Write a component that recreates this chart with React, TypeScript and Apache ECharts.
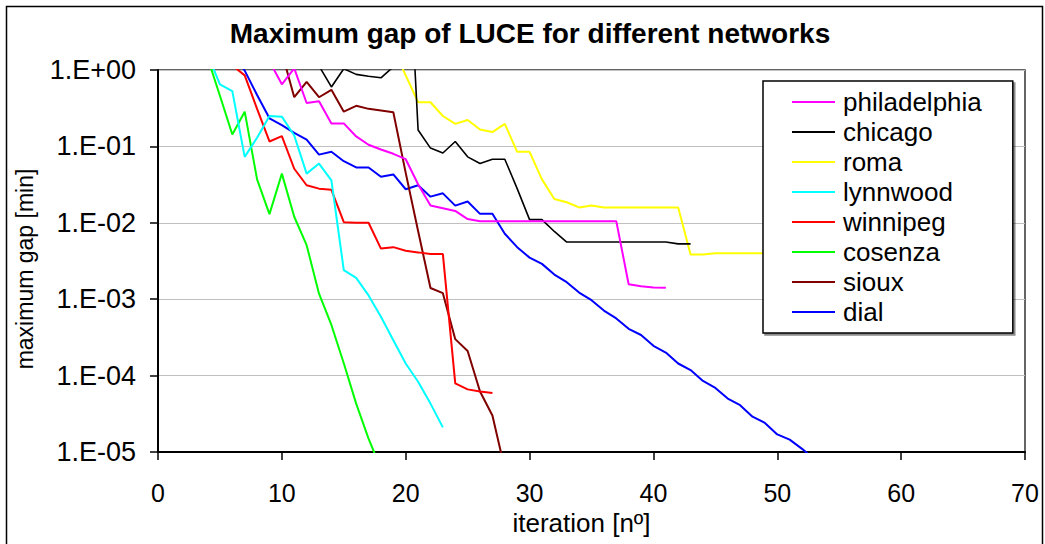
import React, { useEffect, useRef } from "react";
import * as echarts from "echarts";

const xTicks = [0, 10, 20, 30, 40, 50, 60, 70];
const networks = ["philadelphia", "chicago", "roma", "lynnwood", "winnipeg", "cosenza", "sioux", "dial"];
const colors = ["#ff00ff", "#000000", "#ffff00", "#00ffff", "#ff0000", "#00ff00", "#800000", "#0000ff"];

const philadelphiaStart = 9;
const philadelphia = [1.3, 0.65, 1.05, 0.37, 0.39, 0.2, 0.2, 0.135, 0.105, 0.091, 0.08, 0.068, 0.032, 0.0168, 0.0155, 0.0143, 0.0112, 0.0105,
  0.0105, 0.0105, 0.0105, 0.0105, 0.0105, 0.0105, 0.0105, 0.0105, 0.0105, 0.0105, 0.0105, 0.00157, 0.00148, 0.00142, 0.00141];

const chicagoStart = 13;
const chicago = [1.13, 0.6, 1.04, 0.877, 0.83, 0.79, 1.1, 230, 0.164, 0.095, 0.082, 0.116, 0.073, 0.0596, 0.068, 0.068, 0.028, 0.011, 0.011, 0.0077, 0.0056,
  0.0056, 0.0056, 0.0056, 0.0056, 0.0056, 0.0056, 0.0056, 0.0056, 0.0053, 0.0053];

const romaStart = 19;
const roma = [1.9, 0.85, 0.378, 0.378, 0.25, 0.197, 0.222, 0.166, 0.154, 0.197, 0.085, 0.085, 0.037, 0.0205, 0.0186, 0.0159, 0.0168,
  0.0159, 0.0159, 0.0159, 0.0159, 0.0159, 0.0159, 0.0159, 0.00385, 0.00385, 0.004, 0.004, 0.004, 0.004, 0.004, 0.004];

const lynnwoodStart = 4;
const lynnwood = [1.6, 0.65, 0.53, 0.073, 0.13, 0.25, 0.245, 0.139, 0.044, 0.0596, 0.036, 0.0024, 0.0019, 0.00112, 0.00059, 0.00029, 0.000144, 8.3e-5, 4.3e-5, 2.1e-5];

const winnipegStart = 6;
const winnipeg = [1.15, 0.85, 0.31, 0.116, 0.136, 0.051, 0.031, 0.028, 0.027, 0.0102, 0.01, 0.01, 0.0046, 0.0048, 0.0043, 0.0041, 0.0039, 0.0039,
  7.9e-5, 6.6e-5, 6.2e-5, 5.9e-5];

const cosenzaStart = 4;
const cosenza = [1.45, 0.46, 0.143, 0.285, 0.037, 0.013, 0.044, 0.012, 0.0051, 0.00118, 0.00046, 0.000145, 4.3e-5, 1.5e-5, 6e-6];

const siouxStart = 10;
const sioux = [1.7, 0.44, 0.7, 0.44, 0.55, 0.285, 0.34, 0.31, 0.295, 0.28, 0.045, 0.0078, 0.0014, 0.0012, 0.0003, 0.00021, 6.2e-5, 3.0e-5, 6e-6];

const dialStart = 6;
const dial = [1.8, 0.98, 0.47, 0.233, 0.19, 0.15, 0.123, 0.078, 0.085, 0.064, 0.053, 0.053, 0.04, 0.043, 0.0275, 0.031, 0.022, 0.0243, 0.0168, 0.019,
  0.0131, 0.0131, 0.0072, 0.0048, 0.0035, 0.0029, 0.0021, 0.00167, 0.00122, 0.00097, 0.00071, 0.00056, 0.00041, 0.00034, 0.000245, 0.0002,
  0.000144, 0.000118, 8.5e-5, 6.9e-5, 5.0e-5, 4.1e-5, 2.9e-5, 2.4e-5, 1.7e-5, 1.45e-5, 1.1e-5, 8e-6];

const seriesStarts = [philadelphiaStart, chicagoStart, romaStart, lynnwoodStart, winnipegStart, cosenzaStart, siouxStart, dialStart];
const seriesValues = [philadelphia, chicago, roma, lynnwood, winnipeg, cosenza, sioux, dial];

const FONT = "'Liberation Sans', Arial, sans-serif";

function fmtExp(v: number): string {
  const e = Math.round(Math.log10(v));
  const s = e >= 0 ? "+" : "-";
  const a = Math.abs(e);
  return "1.E" + s + (a < 10 ? "0" + a : String(a));
}

export default function App() {
  const ref = useRef<HTMLDivElement>(null);
  useEffect(() => {
    if (!ref.current) return;
    const chart = echarts.init(ref.current, null, { renderer: "svg" });
    const series = networks.map((name, i) => ({
      name,
      type: "line",
      data: seriesValues[i].map((v, j) => [seriesStarts[i] + j, v]),
      showSymbol: false,
      symbol: "none",
      clip: true,
      lineStyle: { color: colors[i], width: i === 1 ? 1.6 : 2 },
      itemStyle: { color: colors[i] },
      z: 2 + (networks.length - i) * 0.01,
    }));
    chart.setOption({
      animation: false,
      backgroundColor: "#ffffff",
      textStyle: { fontFamily: FONT },
      graphic: [
        {
          type: "rect",
          shape: { x: 6.5, y: 6.5, width: 1036, height: 600 },
          style: { fill: "none", stroke: "#000", lineWidth: 1.5 },
          silent: true,
          z: 0,
        },
        {
          type: "text",
          x: 530,
          y: 33,
          style: {
            text: "Maximum gap of LUCE for different networks",
            fontFamily: FONT,
            fontWeight: "bold",
            fontSize: 28,
            fill: "#000",
            textAlign: "center",
            textVerticalAlign: "middle",
          },
        },
      ],
      grid: {
        left: 158,
        top: 70,
        right: 20,
        bottom: 92,
        show: true,
        borderColor: "#333",
        borderWidth: 1.5,
        backgroundColor: "transparent",
      },
      legend: {
        orient: "vertical",
        left: 763,
        top: 81,
        data: networks,
        icon: "rect",
        itemWidth: 43,
        itemHeight: 2,
        itemGap: 4,
        padding: [8, 31, 8, 29],
        backgroundColor: "#ffffff",
        borderColor: "#000",
        borderWidth: 1.5,
        shadowColor: "rgba(0,0,0,0.45)",
        shadowOffsetX: 2,
        shadowOffsetY: 2,
        shadowBlur: 0,
        textStyle: { fontFamily: FONT, fontSize: 26, color: "#000", padding: [0, 0, 0, 3] },
      },
      xAxis: {
        type: "value",
        min: xTicks[0],
        max: xTicks[xTicks.length - 1],
        interval: 10,
        name: "iteration [nº]",
        nameLocation: "middle",
        nameGap: 58,
        nameTextStyle: { fontFamily: FONT, fontSize: 26, color: "#000", padding: [0, 20, 0, 0] },
        axisLine: { show: true, onZero: false, lineStyle: { color: "#000", width: 2 } },
        axisTick: { show: true, inside: false, length: 8, lineStyle: { color: "#000", width: 1.5 } },
        axisLabel: { fontFamily: FONT, fontSize: 25, color: "#000", margin: 28 },
        splitLine: { show: false },
      },
      yAxis: {
        type: "log",
        logBase: 10,
        min: 1e-5,
        max: 1,
        name: "maximum gap [min]",
        nameLocation: "middle",
        nameGap: 122,
        nameRotate: 90,
        nameTextStyle: { fontFamily: FONT, fontSize: 23, color: "#000", padding: [0, 16, 0, 0] },
        axisLine: { show: true, onZero: false, lineStyle: { color: "#000", width: 2 } },
        axisTick: { show: true, inside: false, length: 8, lineStyle: { color: "#000", width: 1.5 } },
        axisLabel: { fontFamily: FONT, fontSize: 27, color: "#000", margin: 22, formatter: (v: number) => fmtExp(v) },
        splitLine: { show: true, lineStyle: { color: "#c0c0c0", width: 1 } },
      },
      series,
    });
    return () => chart.dispose();
  }, []);
  return (
    <div
      ref={ref}
      style={{ position: "absolute", left: 0, top: 0, width: 1045, height: 544, background: "#fff" }}
    />
  );
}
